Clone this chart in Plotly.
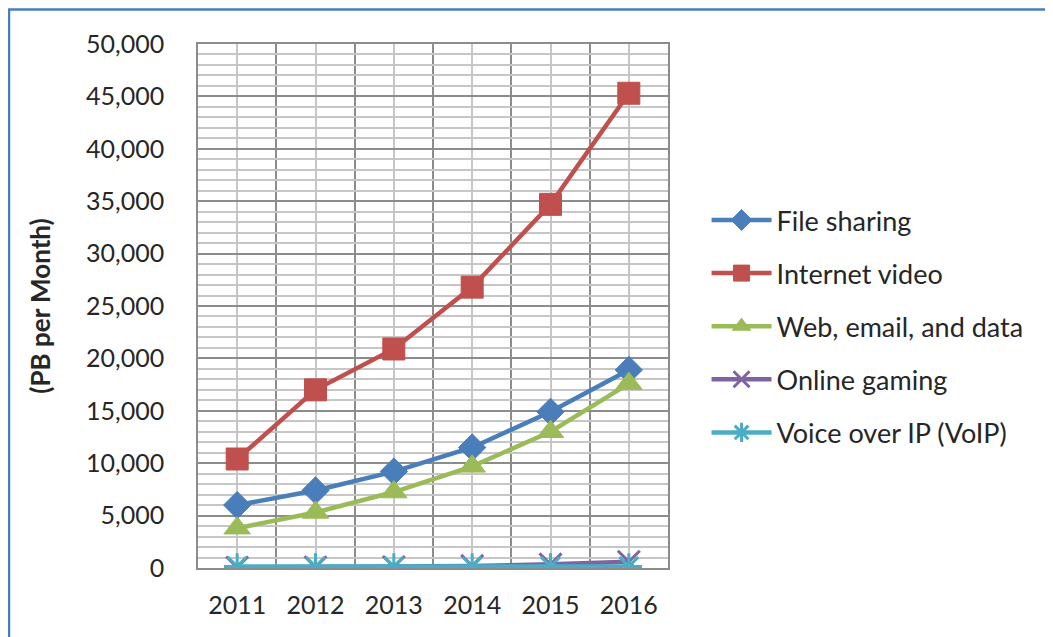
import plotly.graph_objects as go

years = [2011, 2012, 2013, 2014, 2015, 2016]
file_sharing = [6000, 7400, 9200, 11500, 14900, 18900]
internet_video = [10400, 17000, 20900, 26800, 34700, 45300]
web_email_data = [3800, 5300, 7250, 9700, 13000, 17600]
online_gaming = [50, 70, 100, 200, 350, 600]
voip = [150, 150, 150, 150, 150, 150]

series = [
    ("File sharing", file_sharing, "#4a7ebb", "diamond", 21, 1),
    ("Internet video", internet_video, "#c0504d", "square", 22, 1),
    ("Web, email, and data", web_email_data, "#9bbb59", "triangle-up", 23, 1),
    ("Online gaming", online_gaming, "#8064a2", "x-thin-open", 22, 3),
    ("Voice over IP (VoIP)", voip, "#4bacc6", "asterisk-open", 22, 3),
]

FONT = "Lato"
L, R, T, B = 190, 393, 36, 77
PW, PH = 1053 - L - R, 637 - T - B

fig = go.Figure()
for i, (name, vals, col, sym, sz, lw) in enumerate(series):
    fig.add_trace(go.Scatter(
        x=years, y=vals, name=name, mode="lines+markers",
        line=dict(color=col, width=4.5),
        marker=dict(symbol=sym, size=sz, color=col, line=dict(color=col, width=lw)),
        legendgroup=f"g{i}",
    ))

fig.update_layout(
    width=1053, height=637,
    margin=dict(l=L, r=R, t=T, b=B, autoexpand=False),
    paper_bgcolor="white", plot_bgcolor="white",
    font=dict(family=FONT, size=24, color="#262626"),
    showlegend=True,
    legend=dict(
        x=1.082, y=0.71, xanchor="left", yanchor="top",
        font=dict(family=FONT, size=27, color="#262626"),
        traceorder="grouped", tracegroupgap=15,
        itemwidth=60, bgcolor="rgba(0,0,0,0)",
    ),
    xaxis=dict(
        range=[2010.5, 2016.5], tickvals=years, ticktext=[str(y) for y in years],
        showgrid=True, gridcolor="#c6c6c6", gridwidth=1.5,
        showline=True, linecolor="#8c8c8c", linewidth=1.5, mirror=True,
        zeroline=False, ticks="", ticklabelstandoff=14,
        tickfont=dict(family=FONT, size=25, color="#262626"),
        minor=dict(tick0=2010.5, dtick=1, showgrid=True, gridcolor="#8c8c8c", gridwidth=1.5),
    ),
    yaxis=dict(
        range=[0, 50000], dtick=5000, tickformat=",d",
        showgrid=True, gridcolor="#8c8c8c", gridwidth=1.5,
        showline=True, linecolor="#8c8c8c", linewidth=1.5, mirror=True,
        zeroline=False, ticks="", ticklabelstandoff=27,
        tickfont=dict(family=FONT, size=25, color="#262626"),
        minor=dict(dtick=1000, showgrid=True, gridcolor="#c6c6c6", gridwidth=1.5),
        title=dict(text="<b>(PB per Month)</b>", standoff=28,
                   font=dict(family=FONT, size=26, color="#262626")),
    ),
    shapes=[dict(type="rect", xref="paper", yref="paper",
                 x0=(1 - L) / PW, x1=2.2, y0=-0.5, y1=(PH + T - 1.5) / PH,
                 line=dict(color="#4a7cc4", width=2.5), layer="above")],
)

fig.write_html("out.html")
